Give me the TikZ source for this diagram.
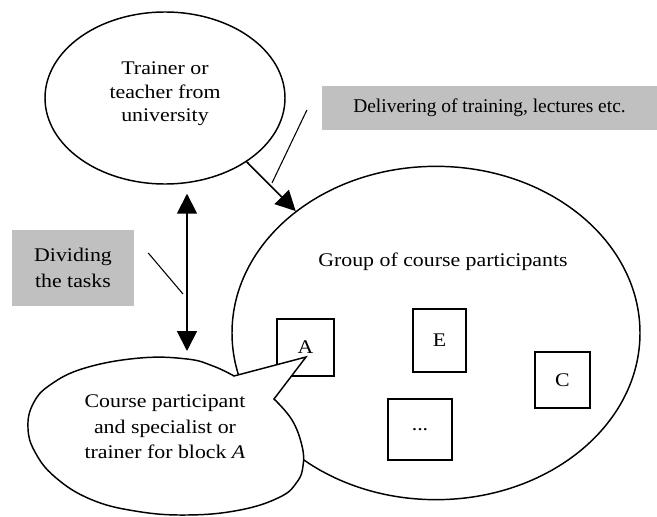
\documentclass[tikz,border=0pt]{standalone}
\usepackage{fontspec}
\setmainfont{Liberation Serif}
\newfontfamily\widefont[FakeStretch=1.13]{Liberation Serif}
\usepackage{xcolor}
\usetikzlibrary{shapes.geometric,arrows.meta}
\definecolor{tagGrey}{RGB}{192,192,192}

\begin{document}
\begin{tikzpicture}[x=0.75pt,y=-0.75pt,
every node/.style={font=\widefont\fontsize{14.5}{17.6}\selectfont}, oval/.style={draw,ellipse,line width=1.1pt,inner sep=0pt},
member/.style={draw,line width=1.1pt,inner sep=0pt}, tag/.style={fill=tagGrey,align=center,inner sep=0pt},
arr/.style={-{Triangle[length=15pt,width=15pt]},line width=1.2pt}, dblarr/.style={{Triangle[length=15pt,width=15pt]}-{Triangle[length=15pt,width=15pt]},line width=1.4pt},
lead/.style={line width=0.8pt}]
\useasboundingbox (0,0) rectangle (657,517);

\node[oval,minimum width=180pt,minimum height=129pt] (trainer) at (165,98) {};
\node[align=center] (trainertext) at (165,94) {Trainer or\\teacher from\\university};
\node[oval,minimum width=306pt,minimum height=250pt] (group) at (436,333) {};
\node (grouptext) at (443,262) {Group of course participants};

\node[member,minimum width=42.75pt,minimum height=42.75pt] (memA) at (305.5,347.5) {A};
\node[member,minimum width=39.75pt,minimum height=47.25pt] (memB) at (439.5,340.5) {E};
\node[member,minimum width=41.25pt,minimum height=42pt] (memC) at (562.5,380) {C};
\node[member,minimum width=48pt,minimum height=45.75pt] (memD) at (420,429.5) {...};

\draw[line width=1.1pt,fill=white] (234,376) -- (306,357) -- (274,399) -- plot[smooth,tension=0.7] coordinates {(274,399) (292,420) (302,446) (303,466) (297,482) (280,497) (240,510) (187,515) (135,511) (90,499) (55,477) (35,452) (28,428) (33,404) (50,385) (85,368) (140,358) (187,359) (213,366) (234,376)} -- cycle;
\coordinate (bubbletop) at (187,360);
\node[align=center,font=\widefont\fontsize{14.5}{19}\selectfont] (course) at (165,427) {Course participant\\and specialist or\\trainer for block \textit{A}};

\node[tag,minimum width=251pt,minimum height=33pt,font=\fontsize{14.6}{17}\selectfont] (deliv) at (489.5,108) {Delivering of training, lectures etc.};
\node[tag,minimum width=91.5pt,minimum height=57pt,font=\widefont\fontsize{14.5}{20}\selectfont] (dividing) at (73,268) {Dividing\\the tasks};

\draw[arr] (trainer.-38) -- (group.139);
\draw[dblarr,shorten <=6.75pt,shorten >=6.75pt] (trainer.south -| bubbletop) -- (bubbletop);
\coordinate (delivpt) at (272,183); \coordinate (divpt) at (183,294);
\draw[lead] (deliv.west) ++(-15,2) -- (delivpt);
\draw[lead] (dividing.east) ++(14,-15) -- (divpt);
\end{tikzpicture}
\end{document}
